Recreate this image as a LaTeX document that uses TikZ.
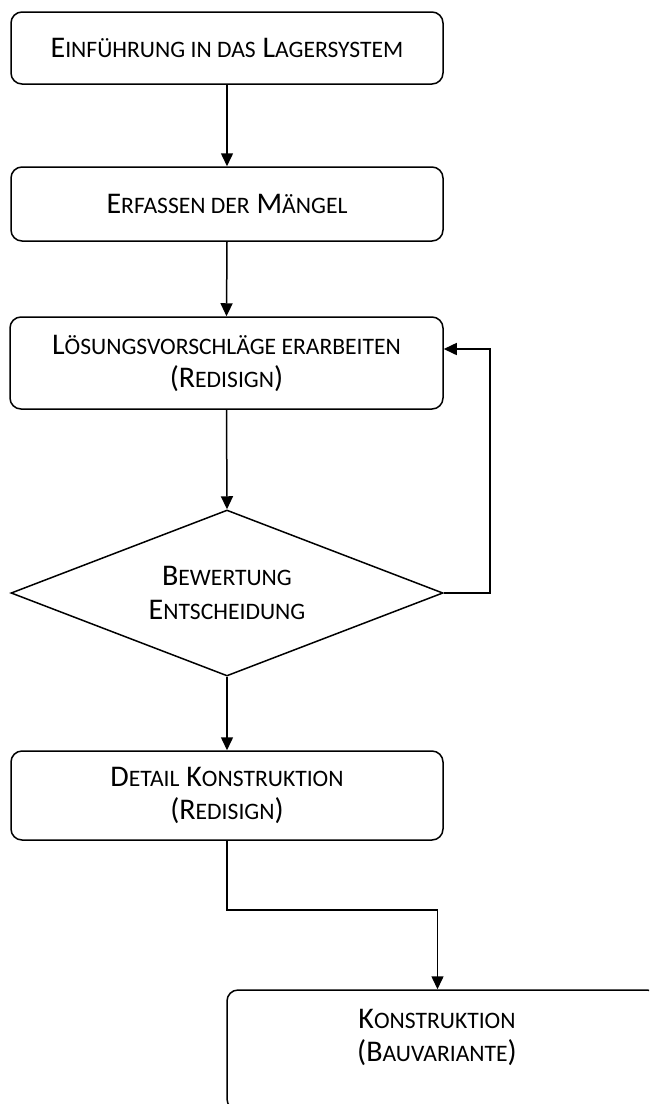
\documentclass[tikz,border=0pt]{standalone}
\usepackage{fontspec}
\setmainfont{Carlito}
\usetikzlibrary{shapes.geometric,arrows.meta,calc}
\newcommand\lc[1]{{\fontsize{23.6}{33}\selectfont #1}}
\begin{document}
\begin{tikzpicture}[x=1pt,y=-1pt,
  box/.style={draw,line width=1.5pt,rounded corners=11pt,inner sep=0pt,align=center,
    font=\fontsize{30}{33}\selectfont},
  dia/.style={draw,line width=1.5pt,diamond,inner sep=0pt,align=center,
    font=\fontsize{30}{34}\selectfont},
  txt/.style={inner sep=0pt,align=center,font=\fontsize{30}{33}\selectfont},
  arr/.style={line width=1.5pt,-{Triangle[length=13pt,width=12pt]}}]
\useasboundingbox (0,0) rectangle (649,1104);
\clip (0,0) rectangle (649,1104);
\node[box,minimum width=432,minimum height=72] (b1) at (227,48) {E\lc{INFÜHRUNG IN DAS} L\lc{AGERSYSTEM}};
\node[box,minimum width=432,minimum height=74] (b2) at (227,204) {E\lc{RFASSEN DER} M\lc{ÄNGEL}};
\node[box,minimum width=433,minimum height=92] (b3) at (226.5,363) {L\lc{ÖSUNGSVORSCHLÄGE ERARBEITEN}\\(R\lc{EDISIGN})};
\node[dia,minimum width=432,minimum height=166,aspect=2.6] (d) at (227,593) {B\lc{EWERTUNG}\\E\lc{NTSCHEIDUNG}};
\node[box,minimum width=432,minimum height=89] (b4) at (227,795.5) {D\lc{ETAIL} K\lc{ONSTRUKTION}\\(R\lc{EDISIGN})};
\node[box,minimum width=431,minimum height=120] (b5) at (442.5,1050) {};
\node[txt] (t5) at (437,1037) {K\lc{ONSTRUKTION}\\(B\lc{AUVARIANTE})};
\coordinate (loop) at (490,349);
\coordinate (bend) at (437.5,910);
\draw[arr] (b1.south) -- (b2.north);
\draw[arr] (b2.south) -- (b3.north);
\draw[arr] (b3.south) -- (d.north);
\draw[arr] (d.east) -| (loop) -- (b3.east |- loop);
\draw[arr] (d.south) -- (b4.north);
\draw[arr] (b4.south) |- (bend) -- (bend |- b5.north);
\end{tikzpicture}
\end{document}
